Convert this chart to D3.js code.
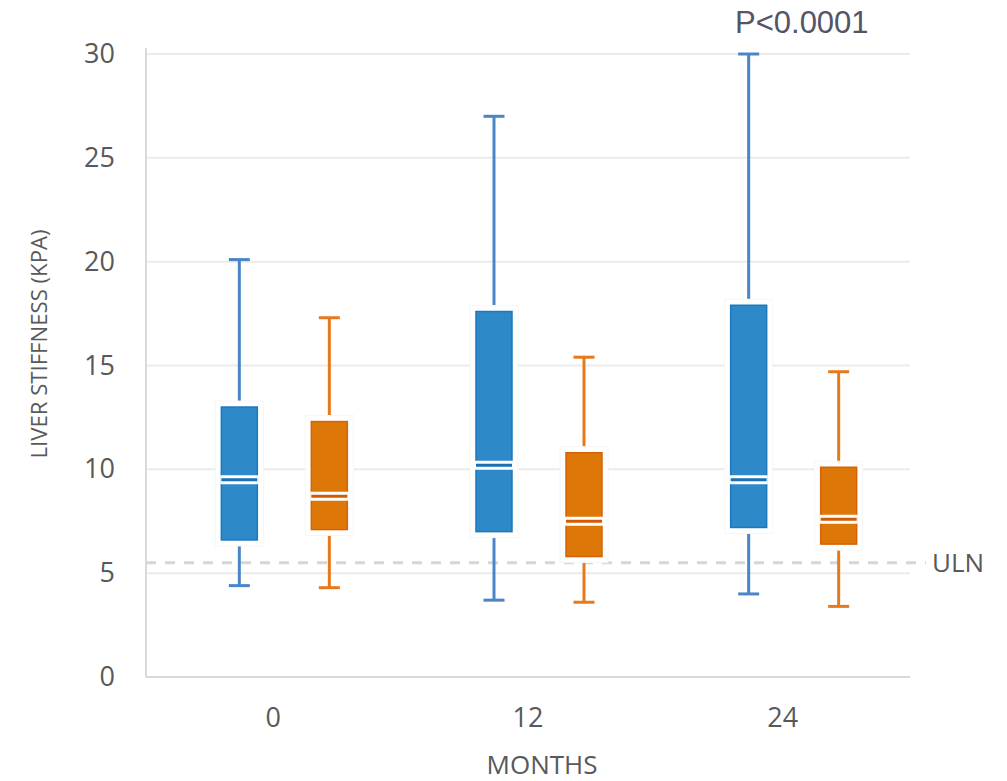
<!DOCTYPE html>
<html>
<head>
<meta charset="utf-8">
<script src="https://d3js.org/d3.v7.min.js"></script>
<style>
  body { margin: 0; background: #fff; }
  text { font-family: "Open Sans", "DejaVu Sans", sans-serif; }
</style>
</head>
<body>
<div id="chart"></div>
<script>
  // data (kPa)
  var months = ["0", "12", "24"];
  var groups = ["blue", "orange"];
  var blueStats = [
    {min: 4.4, q1: 6.6, median: 9.5, q3: 13.0, max: 20.1},
    {min: 3.7, q1: 7.0, median: 10.2, q3: 17.6, max: 27.0},
    {min: 4.0, q1: 7.2, median: 9.5, q3: 17.9, max: 30.0}
  ];
  var orangeStats = [
    {min: 4.3, q1: 7.1, median: 8.7, q3: 12.3, max: 17.3},
    {min: 3.6, q1: 5.8, median: 7.5, q3: 10.8, max: 15.4},
    {min: 3.4, q1: 6.4, median: 7.6, q3: 10.1, max: 14.7}
  ];
  var yTicks = [0, 5, 10, 15, 20, 25, 30];
  var ulnValue = 5.5;

  var width = 1007, height = 781;
  var plotLeft = 146, plotRight = 910, plotTop = 54, plotBottom = 677;

  var svg = d3.select("#chart").append("svg")
    .attr("width", width)
    .attr("height", height);

  var y = d3.scaleLinear().domain([0, 30]).range([plotBottom, plotTop]);
  var x = d3.scaleBand().domain(months).range([plotLeft, plotRight]);
  var xSub = d3.scalePoint().domain(groups).range([-34, 56]);

  var colors = {
    blue: {fill: "#2e89c9", edge: "#1b78bd", whisker: "#4a86c6", med: "#1a70b5"},
    orange: {fill: "#dd7708", edge: "#d6620a", whisker: "#e8781c", med: "#d35a00"}
  };

  // gridlines
  svg.append("g").selectAll("line")
    .data(yTicks.filter(function(d) { return d > 0; }))
    .enter().append("line")
    .attr("x1", plotLeft).attr("x2", plotRight)
    .attr("y1", function(d) { return y(d); })
    .attr("y2", function(d) { return y(d); })
    .attr("stroke", "#ebebeb")
    .attr("stroke-width", 2);

  // ULN dashed line
  svg.append("line")
    .attr("x1", plotLeft).attr("x2", 926)
    .attr("y1", y(ulnValue)).attr("y2", y(ulnValue))
    .attr("stroke", "#d6d6d6")
    .attr("stroke-width", 3)
    .attr("stroke-dasharray", "10,9");

  svg.append("text")
    .attr("x", 932).attr("y", y(ulnValue) + 9)
    .attr("font-size", 26)
    .attr("fill", "#595959")
    .text("ULN");

  // axes
  var yAxis = d3.axisLeft(y).tickValues(yTicks).tickSize(0).tickPadding(31);
  var gy = svg.append("g")
    .attr("transform", "translate(" + plotLeft + ",0)")
    .call(yAxis);
  gy.select(".domain").attr("stroke", "#d9d9d9").attr("stroke-width", 2)
    .attr("d", "M0," + (plotTop - 6) + "V" + plotBottom);
  gy.selectAll("text").attr("font-size", 27).attr("fill", "#595959")
    .attr("font-family", "'Open Sans', sans-serif");

  var xAxis = d3.axisBottom(x).tickSize(0).tickPadding(31);
  var gx = svg.append("g")
    .attr("transform", "translate(0," + plotBottom + ")")
    .call(xAxis);
  gx.select(".domain").attr("stroke", "#d9d9d9").attr("stroke-width", 2)
    .attr("d", "M" + plotLeft + ",0H" + plotRight);
  gx.selectAll("text").attr("font-size", 27).attr("fill", "#595959")
    .attr("font-family", "'Open Sans', sans-serif");

  // boxes
  var boxW = 36, capW = 21;
  var rows = [];
  months.forEach(function(m, i) {
    rows.push({month: m, group: "blue", s: blueStats[i]});
    rows.push({month: m, group: "orange", s: orangeStats[i]});
  });

  var boxes = svg.append("g").selectAll("g")
    .data(rows)
    .enter().append("g")
    .attr("transform", function(d) {
      return "translate(" + (x(d.month) + x.bandwidth() / 2 + xSub(d.group)) + ",0)";
    });

  // whiskers
  boxes.append("line")
    .attr("x1", 0).attr("x2", 0)
    .attr("y1", function(d) { return y(d.s.max); })
    .attr("y2", function(d) { return y(d.s.q3) - 6; })
    .attr("stroke", function(d) { return colors[d.group].whisker; })
    .attr("stroke-width", 3);
  boxes.append("line")
    .attr("x1", 0).attr("x2", 0)
    .attr("y1", function(d) { return y(d.s.q1) + 6; })
    .attr("y2", function(d) { return y(d.s.min); })
    .attr("stroke", function(d) { return colors[d.group].whisker; })
    .attr("stroke-width", 3);
  boxes.append("line")
    .attr("x1", -capW / 2).attr("x2", capW / 2)
    .attr("y1", function(d) { return y(d.s.max); })
    .attr("y2", function(d) { return y(d.s.max); })
    .attr("stroke", function(d) { return colors[d.group].whisker; })
    .attr("stroke-width", 3);
  boxes.append("line")
    .attr("x1", -capW / 2).attr("x2", capW / 2)
    .attr("y1", function(d) { return y(d.s.min); })
    .attr("y2", function(d) { return y(d.s.min); })
    .attr("stroke", function(d) { return colors[d.group].whisker; })
    .attr("stroke-width", 3);

  // white halo behind box
  boxes.append("rect")
    .attr("x", -boxW / 2 - 6)
    .attr("width", boxW + 12)
    .attr("y", function(d) { return y(d.s.q3) - 6; })
    .attr("height", function(d) { return y(d.s.q1) - y(d.s.q3) + 12; })
    .attr("fill", "#fff")
    .attr("stroke", "#f6f6f6")
    .attr("stroke-width", 1);

  boxes.append("rect")
    .attr("x", -boxW / 2)
    .attr("width", boxW)
    .attr("y", function(d) { return y(d.s.q3); })
    .attr("height", function(d) { return y(d.s.q1) - y(d.s.q3); })
    .attr("fill", function(d) { return colors[d.group].fill; })
    .attr("stroke", function(d) { return colors[d.group].edge; })
    .attr("stroke-width", 1.5);

  // median: thin coloured line between two white lines
  boxes.append("line")
    .attr("x1", -boxW / 2 - 1).attr("x2", boxW / 2 + 1)
    .attr("y1", function(d) { return y(d.s.median); })
    .attr("y2", function(d) { return y(d.s.median); })
    .attr("stroke", "#fff")
    .attr("stroke-width", 9);
  boxes.append("line")
    .attr("x1", -boxW / 2).attr("x2", boxW / 2)
    .attr("y1", function(d) { return y(d.s.median); })
    .attr("y2", function(d) { return y(d.s.median); })
    .attr("stroke", function(d) { return colors[d.group].med; })
    .attr("stroke-width", 3);

  // titles
  svg.append("text")
    .attr("transform", "translate(47,344) rotate(-90)")
    .attr("text-anchor", "middle")
    .attr("font-size", 21)
    .attr("fill", "#595959")
    .attr("textLength", 229)
    .attr("lengthAdjust", "spacingAndGlyphs")
    .text("LIVER STIFFNESS (KPA)");

  svg.append("text")
    .attr("x", 542).attr("y", 774)
    .attr("text-anchor", "middle")
    .attr("font-size", 26)
    .attr("fill", "#595959")
    .text("MONTHS");

  svg.append("text")
    .attr("x", 735).attr("y", 33)
    .attr("font-size", 31)
    .attr("fill", "#545466")
    .style("font-family", "'Liberation Sans', Arial, sans-serif")
    .text("P<0.0001");
</script>
</body>
</html>
